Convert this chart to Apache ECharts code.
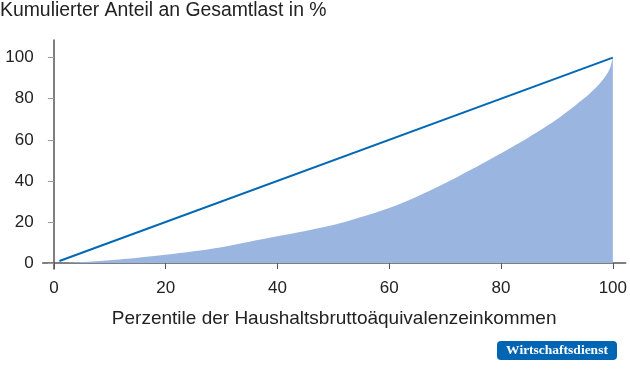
<!DOCTYPE html>
<html>
<head>
<meta charset="utf-8">
<script src="https://cdn.jsdelivr.net/npm/echarts@6/dist/echarts.min.js"></script>
<style>
  html, body { margin: 0; padding: 0; background: #fff; }
  #chart { width: 630px; height: 377px; }
</style>
</head>
<body>
<div id="chart"></div>
<script>
// Perzentile (x) und kumulierter Anteil an Gesamtlast (y)
const percentiles = [1, 5, 10, 15, 20, 25, 30, 35, 40, 45, 50, 55, 60, 65, 70, 75, 80, 85, 90, 95, 97, 98, 99, 99.5, 100];
const loadShare = [0, 0.5, 1.4, 2.6, 4.0, 5.7, 7.7, 10.4, 13.0, 15.6, 18.5, 22.4, 26.8, 32.4, 38.8, 46.0, 53.5, 61.3, 70.0, 80.5, 85.5, 88.5, 92.3, 95.0, 100];
// Gleichverteilungslinie
const equalX = [1, 100];
const equalY = [1, 100];
const tickValues = [0, 20, 40, 60, 80, 100];

const chart = echarts.init(document.getElementById("chart"));

const option = {
  animation: false,
  textStyle: { fontFamily: "Liberation Sans, Arial, sans-serif" },
  title: {
    text: "Kumulierter Anteil an Gesamtlast in %",
    left: 0,
    top: 1.5,
    padding: 0,
    textStyle: { fontSize: 19.4, fontWeight: "normal", color: "#222" },
  },
  grid: { left: 42.7, right: 3, top: 40, bottom: 108 },
  xAxis: {
    type: "value",
    min: -2,
    max: 102.3,
    name: "Perzentile der Haushaltsbruttoäquivalenzeinkommen",
    nameLocation: "middle",
    nameGap: 40,
    nameTextStyle: { fontSize: 19, color: "#222" },
    axisLine: { lineStyle: { color: "#555", width: 1.5 } },
    axisTick: { show: true, customValues: tickValues, length: 6, lineStyle: { color: "#555" } },
    axisLabel: { customValues: tickValues, fontSize: 17, color: "#222", margin: 11 },
    splitLine: { show: false },
  },
  yAxis: {
    type: "value",
    min: -2.9,
    max: 108.6,
    axisLine: { show: true, lineStyle: { color: "#555", width: 1.5 } },
    axisTick: { show: true, customValues: tickValues, length: 6, lineStyle: { color: "#999" } },
    axisLabel: { customValues: tickValues, fontSize: 17, color: "#222", margin: 9 },
    splitLine: { show: false },
  },
  series: [
    {
      name: "Gesamtlast",
      type: "line",
      data: percentiles.map((p, i) => [p, loadShare[i]]),
      smooth: 0.3,
      symbol: "none",
      lineStyle: { width: 0 },
      areaStyle: { color: "#99b5e0", opacity: 1 },
      z: 1,
    },
    {
      name: "Gleichverteilung",
      type: "line",
      data: equalX.map((p, i) => [p, equalY[i]]),
      symbol: "none",
      lineStyle: { color: "#0068b4", width: 2 },
      z: 2,
    },
  ],
  graphic: [
    {
      type: "group",
      left: 497,
      top: 341,
      children: [
        {
          type: "rect",
          shape: { x: 0, y: 0, width: 120, height: 19, r: 4 },
          style: { fill: "#0066b3" },
        },
        {
          type: "text",
          x: 60,
          y: 10,
          style: {
            text: "Wirtschaftsdienst",
            fill: "#fff",
            font: "bold 13.5px 'Liberation Serif', 'DejaVu Serif', serif",
            align: "center",
            verticalAlign: "middle",
          },
        },
      ],
    },
  ],
};

chart.setOption(option);
</script>
</body>
</html>
